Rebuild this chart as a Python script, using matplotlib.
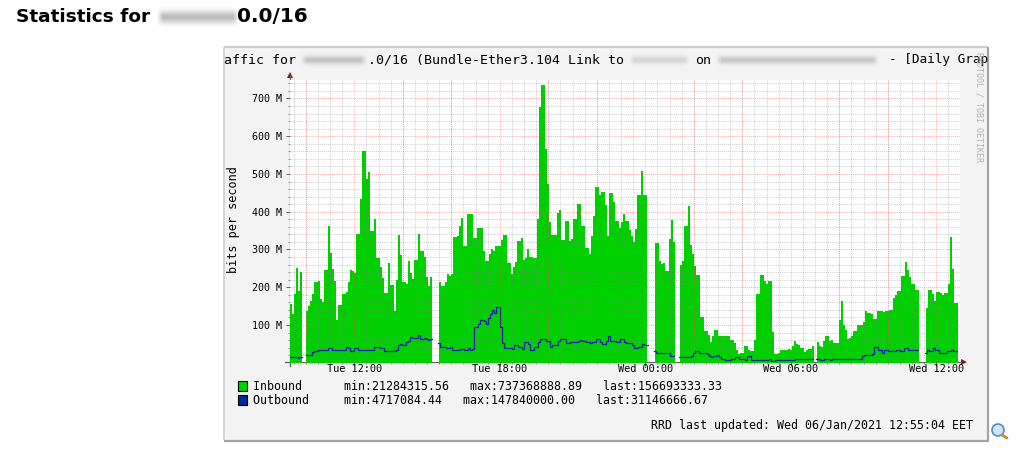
# Cacti / RRDtool daily traffic graph

import numpy as np
import matplotlib
matplotlib.use('Agg')
import matplotlib.pyplot as plt
from matplotlib.patches import Rectangle, Circle

# inbound, Mbit/s, one list per stretch between the polling gaps
in_a = [156,129,182,251,189,240]
in_b = [137,150,163,182,213,213,216,169,161,246,246,362,291,248,216,113,153,153,182,182,
        187,213,246,243,238,341,341,434,561,561,487,505,349,349,381,277,277,254,224,185,
        185,264,206,206,137,219,338,285,214,214,209,269,238,222,272,272,341,296,296,280,
        227,203,227]
in_c = [214,203,203,214,235,230,235,334,334,337,362,383,309,309,394,394,394,330,330,357,
        357,357,296,270,270,288,301,296,309,309,309,325,338,338,264,264,235,254,267,322,
        322,330,272,277,301,280,280,277,277,381,677,736,736,566,473,373,338,338,338,397,
        405,325,325,375,375,322,328,381,381,420,420,362,362,304,304,288,336,389,466,466,
        444,452,452,418,336,450,450,426,375,375,357,373,394,375,375,352,336,320,354,444,
        444,508,444,444]
in_d = [317,317,269,261,264,243,243,328,378,320]
in_e = [259,269,362,362,415,312,288,256,232,232,121,121,84,84,73,55,71,87,87,71,
        71,71,71,71,71,60,60,52,34,23,26,26,44,44,34,31,31,60,182,182,
        232,232,216,208,216,216,81,23,23,26,34,34,34,34,36,34,44,57,50,47,
        39,39,28,34,36,36,44]
in_f = [55,44,42,57,71,71,57,60,52,52,52,113,163,100,87,63,65,71,84,84,
        100,100,100,108,137,132,132,129,116,116,137,137,137,134,137,137,140,140,171,179,
        190,190,230,230,267,246,227,208,208,193,193]
in_g = [145,193,193,182,163,187,187,185,179,185,185,208,333,248,158,158]

# outbound, same units
out_a = [14,14,14,14,12,14]
out_b = [20,20,20,28,30,30,35,33,33,35,35,38,38,35,33,35,33,33,33,33,
         43,38,30,30,38,38,35,33,35,35,33,35,35,35,41,43,43,38,38,30,
         30,30,30,30,30,33,46,49,46,46,54,57,67,65,65,65,73,62,62,65,
         62,59,62]
out_c = [51,43,43,41,38,38,43,33,33,33,33,36,36,33,33,38,33,36,96,96,
         102,112,112,110,102,118,128,141,131,147,147,94,51,38,38,38,38,36,46,46,
         41,41,36,54,54,49,33,33,43,43,54,62,62,62,58,58,43,46,46,46,
         57,62,62,62,51,51,54,54,54,54,57,59,57,57,54,54,51,54,54,62,
         62,54,49,49,57,70,57,57,57,54,54,62,62,54,51,51,51,46,38,38,
         43,43,49,46,46]
out_d = [30,27,27,25,25,25,25,25,17,17]
out_e = [14,14,14,14,14,14,18,25,30,30,27,27,27,27,22,17,14,17,17,20,
         14,9,9,6,6,6,9,9,14,14,9,11,11,6,17,17,6,6,6,6,
         6,6,6,6,6,9,5,5,6,6,6,6,6,6,6,6,6,6,9,11,
         11,11,9,9,9,9,9]
out_f = [9,9,6,6,9,9,9,6,9,9,9,9,9,9,9,9,9,9,9,9,
         11,11,11,17,20,20,20,20,22,41,43,33,33,27,33,33,30,30,30,30,
         33,33,30,30,38,38,33,33,33,35,35]
out_g = [27,33,30,30,38,33,33,27,25,27,27,30,30,33,30,30]

inbound = [in_a, in_b, in_c, in_d, in_e, in_f, in_g]
outbound = [out_a, out_b, out_c, out_d, out_e, out_f, out_g]
# hours since Tue 00:00 at which each stretch starts
in_starts = [9.348, 10.008, 15.493, 24.40, 25.43, 31.08, 35.57]
out_starts = [9.348, 10.008, 15.45, 24.36, 25.39, 31.04, 35.53]
sample = 0.0825

xticks = [12, 18, 24, 30, 36]
xlabels = ['Tue 12:00', 'Tue 18:00', 'Wed 00:00', 'Wed 06:00', 'Wed 12:00']
yticks = [100, 200, 300, 400, 500, 600, 700]

W, H = 1035, 458
GREEN = '#00CF00'
BLUE = '#002A97'
MONO = 'DejaVu Sans Mono'

fig = plt.figure(figsize=(W/100, H/100), dpi=100, facecolor='white')

# page layer in pixel coordinates
bg = fig.add_axes([0, 0, 1, 1], zorder=0)
bg.set_xlim(0, W)
bg.set_ylim(H, 0)
bg.axis('off')

bg.add_patch(Rectangle((224, 47), 764, 393, facecolor='#F3F3F3', edgecolor='none'))
bg.plot([224, 988], [47, 47], color='#CFCFCF', lw=1.6, solid_capstyle='butt')
bg.plot([224, 224], [47, 440], color='#CFCFCF', lw=1.2, solid_capstyle='butt')
bg.plot([988, 988], [47, 441], color='#A3A3A3', lw=1.6, solid_capstyle='butt')
bg.plot([224, 989], [440.5, 440.5], color='#A3A3A3', lw=1.6, solid_capstyle='butt')


def smudge(x0, x1, yc, h, color='#7A7A7A', peak=0.55):
    # blurred-out hostnames
    xs = np.arange(x0-6, x1+6)+0.5
    ys = np.arange(yc-h-4, yc+h+4)+0.5
    ax_ = np.clip((xs-x0+3)/6, 0, 1)*np.clip((x1+3-xs)/6, 0, 1)
    ay_ = np.exp(-((ys-yc)/h)**2)
    rgba = np.zeros((len(ys), len(xs), 4))
    rgba[..., :3] = matplotlib.colors.to_rgb(color)
    rgba[..., 3] = np.outer(ay_, ax_)*peak
    bg.imshow(rgba, extent=(xs[0]-.5, xs[-1]+.5, ys[-1]+.5, ys[0]-.5), aspect='auto',
              interpolation='bilinear', zorder=3)


bg.text(16, 17, 'Statistics for', fontsize=13.3, fontweight='bold', family='DejaVu Sans',
        va='center', ha='left', color='black')
bg.text(237, 17, '0.0/16', fontsize=14.4, fontweight='bold', family='DejaVu Sans',
        va='center', ha='left', color='black')
smudge(160, 236, 17, 6, peak=0.5)

bg.text(224, 60, 'affic for         .0/16 (Bundle-Ether3.104 Link to',
        family=MONO, fontsize=9.5, va='center', ha='left', color='black')
bg.text(695, 60, 'on', family=MONO, fontsize=9.5, va='center', ha='left', color='black')
bg.text(988, 60, '- [Daily Grap', family=MONO, fontsize=9.2, va='center', ha='right', color='black')
smudge(304, 364, 60, 4, peak=0.4)
smudge(632, 687, 60, 4, peak=0.25)
smudge(719, 876, 60, 4, peak=0.35)

bg.text(979, 52, 'RRDTOOL / TOBI OETIKER', family=MONO, fontsize=6, rotation=-90,
        va='top', ha='center', color='#B4B4B4')

bg.text(234, 220, 'bits per second', family=MONO, fontsize=8.5, rotation=90,
        va='center', ha='center', color='black')

# legend
bg.add_patch(Rectangle((238, 381), 9, 10, facecolor=GREEN, edgecolor='black', lw=0.8))
bg.add_patch(Rectangle((238, 395), 9, 10, facecolor=BLUE, edgecolor='black', lw=0.8))
bg.text(253, 386, 'Inbound      min:21284315.56   max:737368888.89   last:156693333.33',
        family=MONO, fontsize=8.4, va='center', ha='left', color='black')
bg.text(253, 400, 'Outbound     min:4717084.44   max:147840000.00   last:31146666.67',
        family=MONO, fontsize=8.4, va='center', ha='left', color='black')
bg.text(973, 426, 'RRD last updated: Wed 06/Jan/2021 12:55:04 EET',
        family=MONO, fontsize=8.35, va='center', ha='right', color='black')

# magnifier icon
bg.plot([1002, 1007], [435, 438], color='#C98A3A', lw=2, solid_capstyle='round')
bg.add_patch(Circle((998, 430), 6, facecolor='#CFE6F7', edgecolor='#4F8FC0', lw=1.2))

# axis arrows
bg.plot([289.5], [75], marker='^', ms=4.5, color='#7A1F1F', mew=0, clip_on=False)
bg.plot([964], [361.5], marker='>', ms=4.5, color='#7A1F1F', mew=0, clip_on=False)
bg.plot([285, 961], [361.5, 361.5], color='#606060', lw=0.9, zorder=4)
bg.plot([289.5, 289.5], [76, 366], color='#606060', lw=0.9, zorder=4)

# graph
ax = fig.add_axes([289.5/W, 1-361.5/H, (960-289.5)/W, (361.5-80)/H], zorder=1)
ax.set_facecolor('white')
for s in ax.spines.values():
    s.set_visible(False)

for vals, t0 in zip(inbound, in_starts):
    t = t0+np.arange(len(vals)+1)*sample
    y = np.array(vals+[vals[-1]], dtype=float)
    ax.fill_between(t, 0, y, step='post', color=GREEN, lw=0, zorder=2)
for vals, t0 in zip(outbound, out_starts):
    t = t0+np.arange(len(vals)+1)*sample
    y = np.array(vals+[vals[-1]], dtype=float)
    ax.step(t, y, where='post', color=BLUE, lw=0.9, zorder=3)

ax.set_xlim(9.328, 36.977)
ax.set_ylim(3.3, 749)
ax.set_xticks(xticks)
ax.set_xticklabels(xlabels, family=MONO, fontsize=7.4)
ax.set_yticks(yticks)
ax.set_yticklabels(['%d M' % v for v in yticks], family=MONO, fontsize=7.2)
ax.set_xticks(np.arange(9.5, 37, 0.5), minor=True)
ax.set_yticks(np.arange(20, 749, 20), minor=True)
ax.tick_params(axis='both', which='major', length=3, width=0.7, color='#606060')
ax.tick_params(axis='both', which='minor', length=1.5, width=0.6, color='#808080')
ax.tick_params(axis='x', which='major', pad=-1)
ax.tick_params(axis='y', which='major', pad=2.5)

ax.set_axisbelow(False)
ax.grid(which='minor', color='#808080', alpha=0.35, lw=0.75, ls=(0, (1, 1)), zorder=4)
for h in np.arange(10, 37, 2):
    ax.axvline(h, color='#FF5050', alpha=0.35, lw=0.75, ls=(0, (1, 1)), zorder=4)
for v in yticks:
    ax.axhline(v, color='#FF5050', alpha=0.45, lw=0.75, ls=(0, (1, 1)), zorder=4)

fig.savefig('out.png', dpi=100)
